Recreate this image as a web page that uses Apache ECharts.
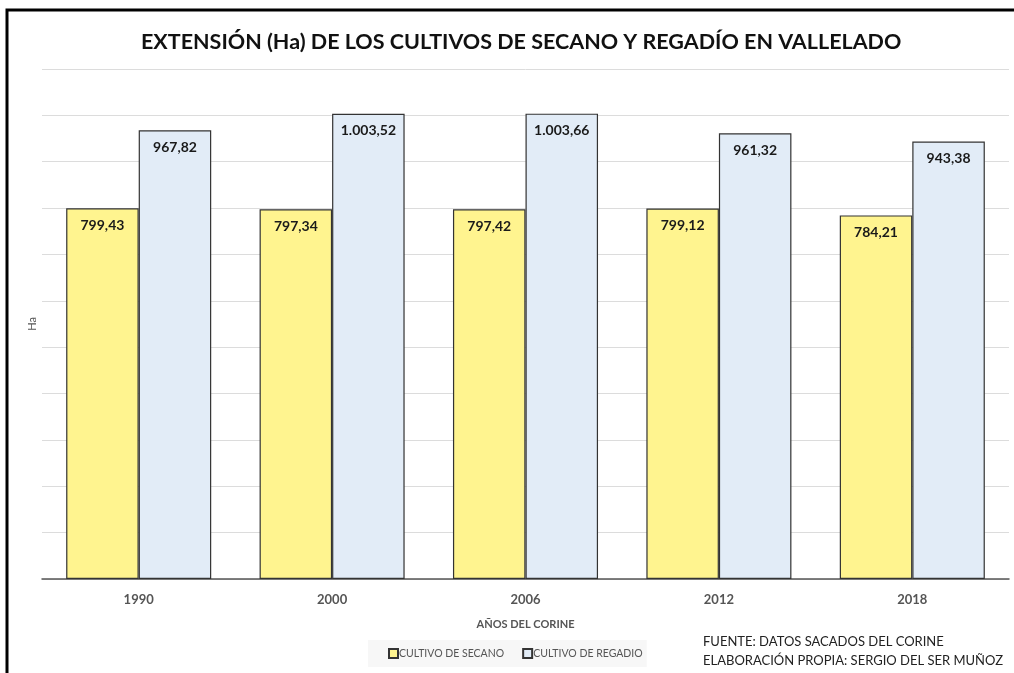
<!DOCTYPE html>
<html>
<head>
<meta charset="utf-8">
<script src="https://cdn.jsdelivr.net/npm/echarts@6/dist/echarts.min.js"></script>
<style>
    html, body { margin: 0; padding: 0; background: #fff; }
    #chart { width: 1014px; height: 673px; }
</style>
</head>
<body>
<div id="chart"></div>
<script>
const years = ["1990", "2000", "2006", "2012", "2018"];
const secano = [799.43, 797.34, 797.42, 799.12, 784.21];
const regadio = [967.82, 1003.52, 1003.66, 961.32, 943.38];
const seriesNames = ["CULTIVO DE SECANO", "CULTIVO DE REGADIO"];

const chart = echarts.init(document.getElementById("chart"));

// formato español: 1.003,52
const fmt = (v) => {
    const [ent, dec] = v.toFixed(2).split(".");
    return ent.replace(/\B(?=(\d{3})+(?!\d))/g, ".") + "," + dec;
};

const font = "Lato, 'Open Sans', sans-serif";

const barLabel = {
    show: true,
    position: "insideTop",
    distance: 10,
    formatter: (p) => fmt(p.value),
    fontFamily: font,
    fontWeight: "bold",
    fontSize: 14,
    color: "#1a1a1a"
};

const option = {
    animation: false,
    title: {
        text: "EXTENSIÓN (Ha) DE LOS CULTIVOS DE SECANO Y REGADÍO EN VALLELADO",
        left: 136,
        top: 26,
        textStyle: {
            fontFamily: font,
            fontSize: 21.5,
            fontWeight: "bold",
            color: "#111"
        }
    },
    legend: {
        data: seriesNames,
        bottom: 6,
        left: 368,
        icon: "rect",
        itemWidth: 9,
        itemHeight: 9,
        itemGap: 18,
        backgroundColor: "#f7f7f7",
        padding: [8, 4, 8, 20],
        textStyle: { fontFamily: font, fontSize: 10.5, color: "#555", padding: [0, 0, 0, -4] }
    },
    grid: { left: 42, right: 5, top: 69, bottom: 94 },
    xAxis: {
        type: "category",
        data: years,
        name: "AÑOS DEL CORINE",
        nameLocation: "middle",
        nameGap: 40,
        nameTextStyle: { fontFamily: font, fontSize: 11, fontWeight: "bold", color: "#555" },
        axisLine: { lineStyle: { color: "#555", width: 1.5 } },
        axisTick: { show: false },
        axisLabel: { fontFamily: font, fontSize: 13, fontWeight: "bold", color: "#555", margin: 14 }
    },
    yAxis: {
        type: "value",
        min: 0,
        max: 1100,
        interval: 100,
        name: "Ha",
        nameLocation: "middle",
        nameGap: 4,
        nameRotate: 90,
        nameTextStyle: { fontFamily: font, fontSize: 11, color: "#555" },
        axisLabel: { show: false },
        axisLine: { show: false },
        axisTick: { show: false },
        splitLine: { lineStyle: { color: "#dcdcdc", width: 1 } }
    },
    series: [
        {
            name: seriesNames[0],
            type: "bar",
            data: secano,
            barGap: "0%",
            barCategoryGap: "25%",
            itemStyle: { color: "#fff48f", borderColor: "#333", borderWidth: 1.2 },
            label: barLabel
        },
        {
            name: seriesNames[1],
            type: "bar",
            data: regadio,
            itemStyle: { color: "#e2ecf7", borderColor: "#333", borderWidth: 1.2 },
            label: barLabel
        }
    ],
    graphic: [
        {
            type: "rect",
            shape: { x: 7, y: 10, width: 1030, height: 700 },
            style: { fill: "none", stroke: "#000", lineWidth: 3 },
            z: 100
        },
        {
            type: "text",
            left: 703,
            top: 632,
            style: {
                text: "FUENTE: DATOS SACADOS DEL CORINE\nELABORACIÓN PROPIA: SERGIO DEL SER MUÑOZ",
                fontFamily: font,
                fontSize: 13,
                lineHeight: 19,
                fill: "#222"
            }
        }
    ]
};

chart.setOption(option);
window.addEventListener("resize", chart.resize);
</script>
</body>
</html>
